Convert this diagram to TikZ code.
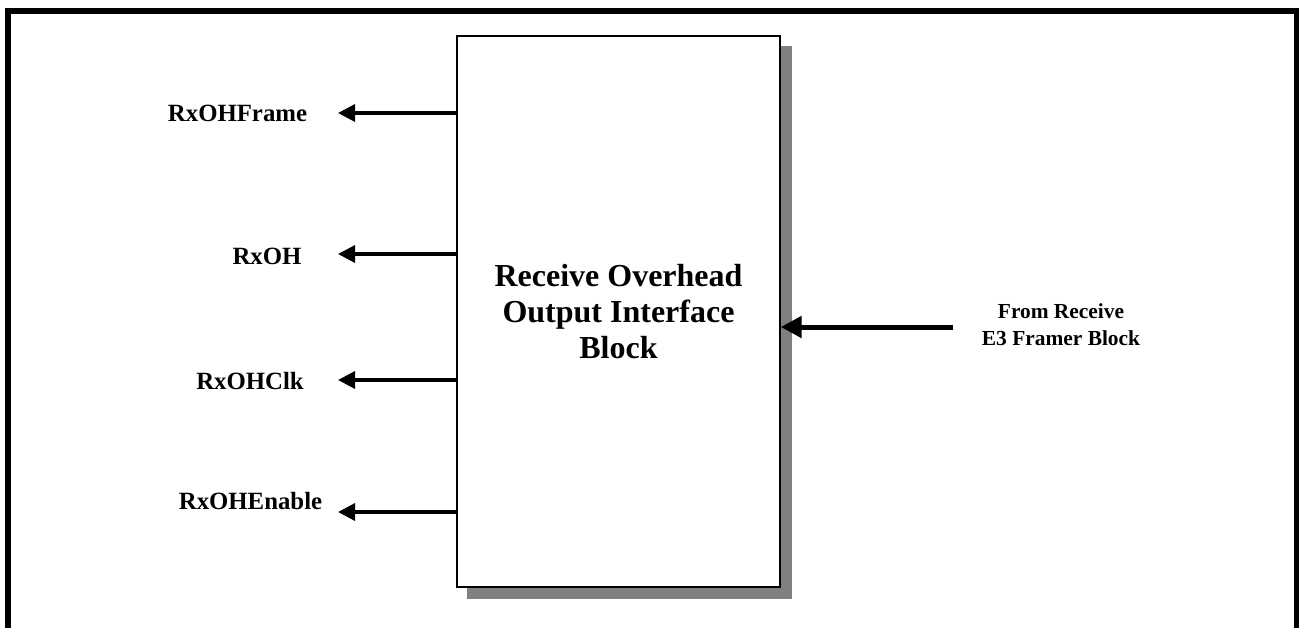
\documentclass[tikz,border=0pt]{standalone}
\usepackage{fontspec}
\setmainfont{Liberation Serif}
\usetikzlibrary{arrows.meta}

\begin{document}
\begin{tikzpicture}[x=0.5pt, y=-0.5pt,
  every node/.style={font=\bfseries},
  blockbox/.style={draw, line width=0.7pt, fill=white, minimum width=161.5pt, minimum height=275.5pt, align=center, inner sep=0pt, font=\fontsize{16}{18}\selectfont\bfseries},
  siglabel/.style={font=\fontsize{12.4}{14}\selectfont\bfseries, inner sep=0pt},
  srclabel/.style={align=center, font=\fontsize{10.7}{13.5}\selectfont\bfseries, inner sep=0pt},
  outarrow/.style={line width=1.6pt, -{Triangle[length=8.5pt,width=8.5pt]}},
  inarrow/.style={line width=2.5pt, -{Triangle[length=10.5pt,width=10.5pt]}}]
\useasboundingbox (0,0) rectangle (1299,627);
\begin{scope}
\clip (0,0) rectangle (1299,627);
\draw[line width=3pt] (8,11) rectangle (1297,700);
\end{scope}
% block with its shadow
\fill[gray] (467,46) rectangle (792,599);
\node[blockbox] (blk) at (618.5,311.5) {Receive Overhead\\Output Interface\\Block};
% outputs
\node[siglabel] (frame) at (237.5,113) {RxOHFrame};
\node[siglabel] (oh) at (267,256) {RxOH};
\node[siglabel] (clk) at (250,381) {RxOHClk};
\node[siglabel] (enable) at (250.5,501) {RxOHEnable};
\coordinate (frameTip) at (338,113);
\coordinate (ohTip) at (338,254);
\coordinate (clkTip) at (338,380);
\coordinate (enableTip) at (338,512);
\draw[outarrow] (blk.west |- frameTip) -- (frameTip);
\draw[outarrow] (blk.west |- ohTip) -- (ohTip);
\draw[outarrow] (blk.west |- clkTip) -- (clkTip);
\draw[outarrow] (blk.west |- enableTip) -- (enableTip);
% input
\node[srclabel] (src) at (1061,325) {From Receive\\E3 Framer Block};
\coordinate (srcTail) at (953,327);
\draw[inarrow] (srcTail) -- (blk.east |- srcTail);
\end{tikzpicture}
\end{document}
